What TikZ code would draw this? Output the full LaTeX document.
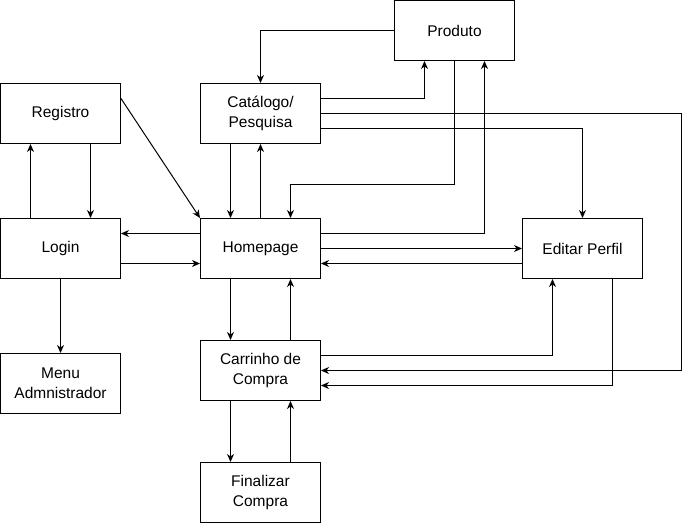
\documentclass[tikz,border=0pt]{standalone}
\usepackage{fontspec}
\setmainfont{Liberation Sans}
\usetikzlibrary{arrows.meta}
\tikzset{
  box/.style={draw, line width=1pt, minimum width=120pt, minimum height=60pt, inner sep=0pt, align=center, font=\fontsize{15.5}{20}\selectfont, text=black},
  arr/.style={line width=1pt, -{Stealth[length=8pt,width=7pt,inset=2.5pt]}}
}
\begin{document}
\begin{tikzpicture}[x=1pt,y=-1pt]
\useasboundingbox (-0.5,-0.5) rectangle (690.5,522.5);
\node[box] (prod) at (454,30) {Produto};
\node[box] (reg) at (60,113) {Registro};
\node[box] (cat) at (260,113) {Catálogo/\\Pesquisa};
\node[box] (login) at (60,248) {Login};
\node[box] (home) at (260,248) {Homepage};
\node[box] (edit) at (582,248) {Editar Perfil};
\node[box] (menu) at (60,383) {Menu\\Admnistrador};
\node[box] (cart) at (260,370) {Carrinho de\\Compra};
\node[box] (fin) at (260,492) {Finalizar\\Compra};

\draw[arr] (prod.west) -| (cat.north);
\draw[arr] ([yshift=15pt]cat.east) -| ([xshift=-30pt]prod.south);
\draw[arr] (cat.east) -- ++(360,0) |- (cart.east);
\draw[arr] ([yshift=-15pt]cat.east) -| (edit.north);
\draw[arr] (prod.south) -- ++(0,123) -| ([xshift=30pt]home.north);
\draw[arr] ([yshift=15pt]home.east) -| ([xshift=30pt]prod.south);
\draw[arr] ([xshift=-30pt]cat.south) -- ([xshift=-30pt]home.north);
\draw[arr] (home.north) -- (cat.south);
\draw[arr] ([yshift=15pt]reg.east) -- (home.north west);
\draw[arr] ([xshift=-30pt]login.north) -- ([xshift=-30pt]reg.south);
\draw[arr] ([xshift=30pt]reg.south) -- ([xshift=30pt]login.north);
\draw[arr] ([yshift=15pt]home.west) -- ([yshift=15pt]login.east);
\draw[arr] ([yshift=-15pt]login.east) -- ([yshift=-15pt]home.west);
\draw[arr] (home.east) -- (edit.west);
\draw[arr] ([yshift=-15pt]edit.west) -- ([yshift=-15pt]home.east);
\draw[arr] (login.south) -- (menu.north);
\draw[arr] ([xshift=-30pt]home.south) -- ([xshift=-30pt]cart.north);
\draw[arr] ([xshift=30pt]cart.north) -- ([xshift=30pt]home.south);
\draw[arr] ([yshift=15pt]cart.east) -| ([xshift=-30pt]edit.south);
\draw[arr] ([xshift=30pt]edit.south) |- ([yshift=-15pt]cart.east);
\draw[arr] ([xshift=-30pt]cart.south) -- ([xshift=-30pt]fin.north);
\draw[arr] ([xshift=30pt]fin.north) -- ([xshift=30pt]cart.south);
\end{tikzpicture}
\end{document}
